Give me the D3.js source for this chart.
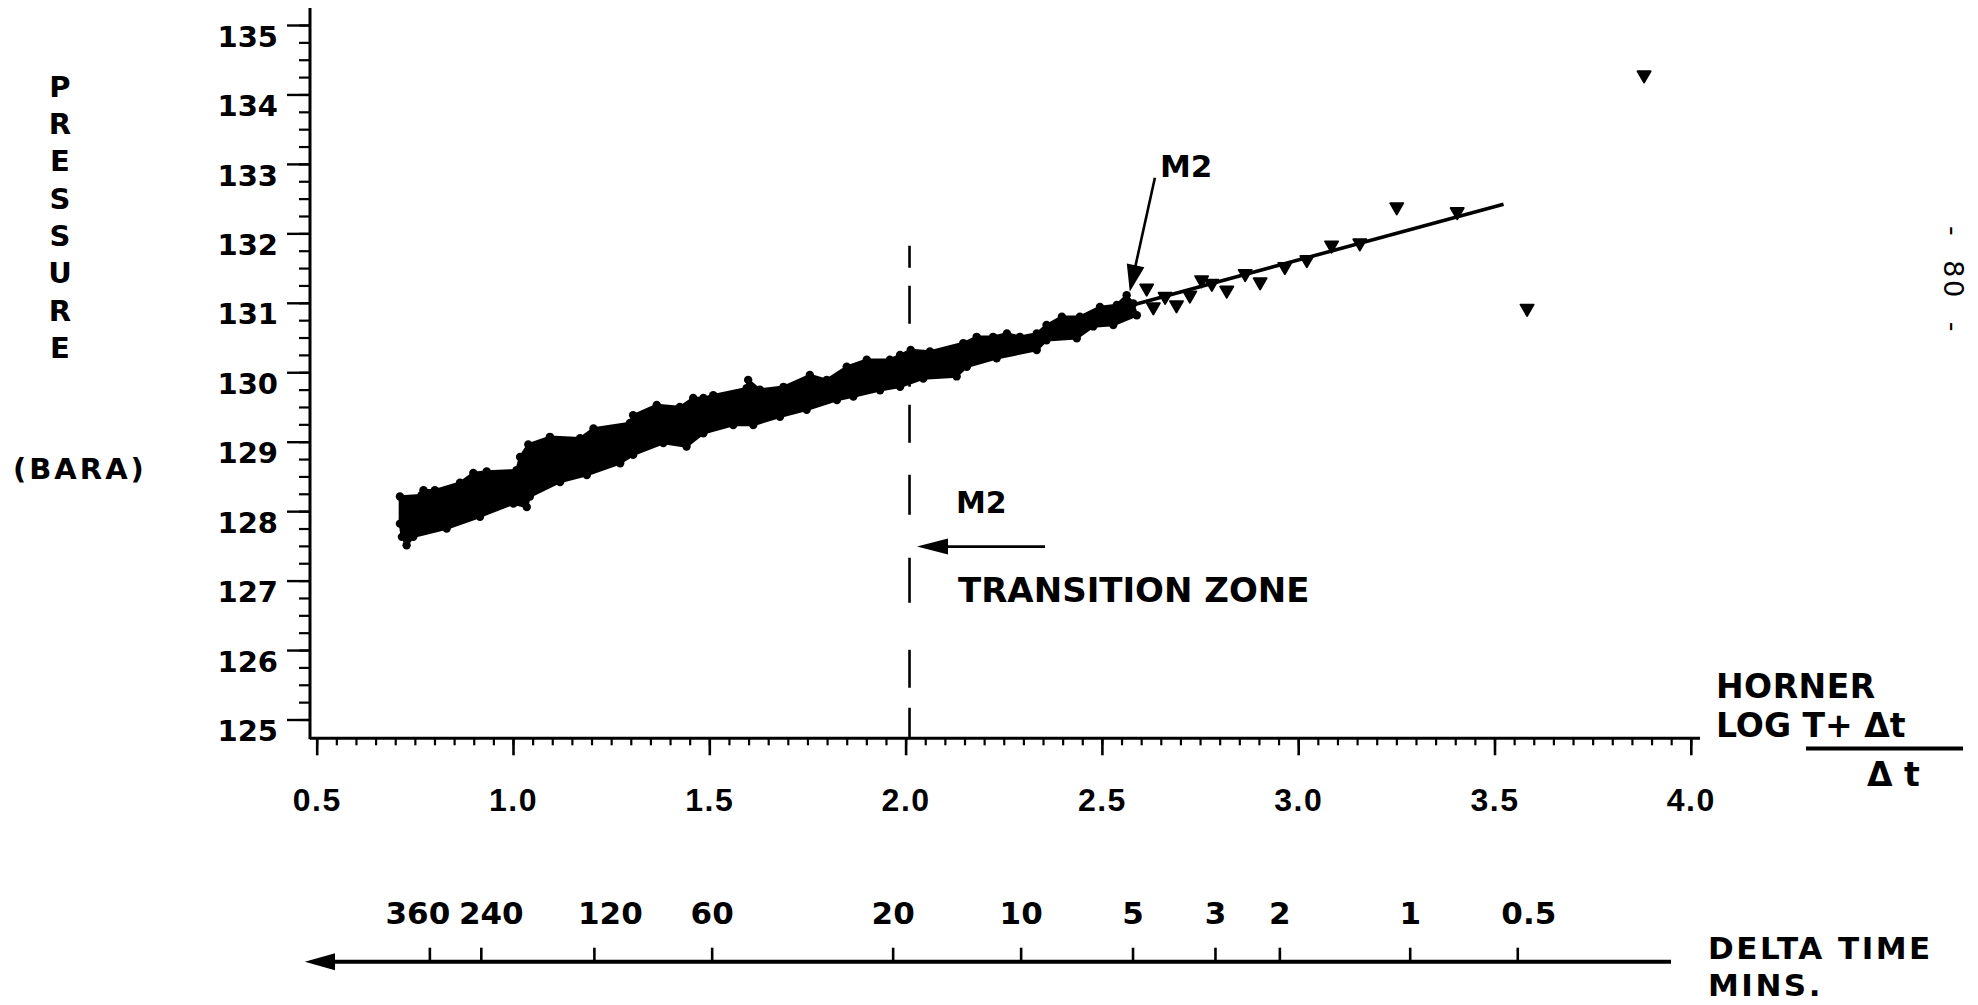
<!DOCTYPE html>
<html><head><meta charset="utf-8">
<script src="https://cdn.jsdelivr.net/npm/d3@7"></script>
<style>
html,body{margin:0;padding:0;background:#fff;}
svg{display:block;}
text{font-family:"DejaVu Sans",sans-serif;font-weight:bold;fill:#000;}
</style></head><body>
<svg id="chart" width="1978" height="1005"></svg>
<script>
// ---------- data ----------
const hornerTicks = [0.5, 1.0, 1.5, 2.0, 2.5, 3.0, 3.5, 4.0];
const hornerTickLabels = ["0.5", "1.0", "1.5", "2.0", "2.5", "3.0", "3.5", "4.0"];
const pressureTicks = [125, 126, 127, 128, 129, 130, 131, 132, 133, 134, 135];
const deltaTimeLabels = ["360", "240", "120", "60", "20", "10", "5", "3", "2", "1", "0.5"];
const deltaTimeHorner = [0.787, 0.918, 1.206, 1.506, 1.967, 2.293, 2.578, 2.788, 2.952, 3.284, 3.558];

// dense band of recorded points: upper and lower envelope (Horner value, pressure)
const bandUpperH = [0.712, 0.767, 0.772, 0.801, 0.865, 0.899, 0.933, 1.009, 1.018, 1.039, 1.094, 1.171, 1.205, 1.298, 1.306, 1.366, 1.425, 1.459, 1.485, 1.510, 1.595, 1.599, 1.629, 1.689, 1.756, 1.799, 1.850, 1.901, 1.960, 1.986, 2.013, 2.062, 2.147, 2.181, 2.223, 2.258, 2.291, 2.334, 2.359, 2.398, 2.444, 2.495, 2.538, 2.563, 2.580];
const bandUpperP = [128.21, 128.23, 128.30, 128.30, 128.41, 128.55, 128.57, 128.59, 128.78, 128.96, 129.07, 129.05, 129.19, 129.27, 129.38, 129.53, 129.50, 129.63, 129.63, 129.67, 129.77, 129.89, 129.75, 129.79, 129.96, 129.89, 130.08, 130.18, 130.18, 130.25, 130.32, 130.30, 130.42, 130.51, 130.51, 130.56, 130.51, 130.56, 130.68, 130.80, 130.80, 130.94, 130.97, 131.11, 130.99];
const bandLowerH = [0.712, 0.717, 0.729, 0.746, 0.831, 0.916, 1.001, 1.035, 1.043, 1.120, 1.188, 1.273, 1.306, 1.383, 1.442, 1.485, 1.561, 1.612, 1.680, 1.748, 1.825, 1.867, 1.935, 1.986, 2.045, 2.130, 2.156, 2.232, 2.334, 2.359, 2.436, 2.478, 2.529, 2.589];
const bandLowerP = [127.82, 127.63, 127.51, 127.63, 127.75, 127.92, 128.11, 128.06, 128.21, 128.42, 128.52, 128.69, 128.81, 128.98, 128.93, 129.12, 129.24, 129.24, 129.36, 129.46, 129.60, 129.65, 129.74, 129.79, 129.91, 129.94, 130.08, 130.20, 130.32, 130.46, 130.49, 130.66, 130.68, 130.82];

// sparse late points
const pointsH = [2.614, 2.631, 2.661, 2.690, 2.724, 2.754, 2.780, 2.818, 2.865, 2.903, 2.966, 3.022, 3.085, 3.157, 3.251, 3.405, 3.583, 3.881];
const pointsP = [131.21, 130.94, 131.09, 130.97, 131.11, 131.33, 131.28, 131.18, 131.42, 131.30, 131.52, 131.62, 131.83, 131.86, 132.38, 132.31, 130.92, 134.28];

// straight-line fit
const fitH = [2.45, 3.523];
const fitP = [130.77, 132.42];

// transition marker
const transitionH = 2.01;
const transitionTopP = 131.82;

// ---------- drawing ----------
const svg = d3.select("#chart");
svg.append("rect").attr("width", 1978).attr("height", 1005).attr("fill", "#fff");

const x = d3.scaleLinear().domain([0.5, 4.0]).range([316.7, 1690.8]);
const y = d3.scaleLinear().domain([125, 135]).range([719.5, 25]);
const axisLeftX = 310, axisRightX = 1700, axisBottomY = 738.3, axisTopY = 8;

function styleAxis(g, w) {
  g.select(".domain").remove();
  g.selectAll(".tick line").attr("stroke", "#000").attr("stroke-width", w);
  g.attr("font-family", null).attr("font-size", null);
}

// Y axis
const minorY = d3.range(0, 41).map(i => 125 + i * 0.25);
const gYm = svg.append("g").attr("transform", `translate(${axisLeftX},0)`)
  .call(d3.axisLeft(y).tickValues(minorY).tickSize(11).tickFormat(""));
styleAxis(gYm, 2.2);
const gY = svg.append("g").attr("transform", `translate(${axisLeftX},0)`)
  .call(d3.axisLeft(y).tickValues(pressureTicks).tickSize(23).tickFormat(d3.format("d")));
styleAxis(gY, 2.4);
gY.selectAll(".tick text").attr("x", -32).attr("dy", "0.73em")
  .style("font-size", "29px").attr("fill", "#000");
svg.append("line").attr("x1", axisLeftX).attr("x2", axisLeftX).attr("y1", axisTopY).attr("y2", axisBottomY + 1)
  .attr("stroke", "#000").attr("stroke-width", 3);

// X axis
const minorX = d3.range(0, 71).map(i => 0.5 + i * 0.05);
const gXm = svg.append("g").attr("transform", `translate(0,${axisBottomY})`)
  .call(d3.axisBottom(x).tickValues(minorX).tickSize(7).tickFormat(""));
styleAxis(gXm, 2.2);
const gX = svg.append("g").attr("transform", `translate(0,${axisBottomY})`)
  .call(d3.axisBottom(x).tickValues(hornerTicks).tickSize(17).tickFormat((d, i) => hornerTickLabels[i]));
styleAxis(gX, 2.6);
gX.selectAll(".tick text").attr("y", 72.7).attr("dy", 0)
  .style("font-family", "'Liberation Sans', Arial, sans-serif").style("font-size", "32px")
  .style("letter-spacing", "1.5px").attr("fill", "#000");
svg.append("line").attr("x1", axisLeftX).attr("x2", axisRightX).attr("y1", axisBottomY).attr("y2", axisBottomY)
  .attr("stroke", "#000").attr("stroke-width", 3);

// data band
const upper = bandUpperH.map((h, i) => [x(h), y(bandUpperP[i])]);
const lower = bandLowerH.map((h, i) => [x(h), y(bandLowerP[i])]).reverse();
svg.append("path")
  .attr("d", d3.line().curve(d3.curveLinearClosed)(upper.concat(lower)))
  .attr("fill", "#000").attr("stroke", "#000").attr("stroke-width", 2.5).attr("stroke-linejoin", "round");
// blotted plotter dots along the envelope
svg.append("g").selectAll("circle").data(upper.concat(lower)).join("circle")
  .attr("cx", d => d[0]).attr("cy", d => d[1]).attr("r", 4.2).attr("fill", "#000");

// fitted line
svg.append("path")
  .attr("d", d3.line()(fitH.map((h, i) => [x(h), y(fitP[i])])))
  .attr("fill", "none").attr("stroke", "#000").attr("stroke-width", 3.6).attr("stroke-linecap", "butt");

// sparse points
const sym = d3.symbol().type(d3.symbolTriangle).size(75);
svg.append("g").selectAll("path").data(pointsH).join("path")
  .attr("d", sym)
  .attr("transform", (h, i) => `translate(${x(h)},${y(pointsP[i])}) rotate(180)`)
  .attr("fill", "#000").attr("stroke", "#000").attr("stroke-width", 1.8).attr("stroke-linejoin", "round");

// transition (dashed) line
svg.append("line")
  .attr("x1", x(transitionH)).attr("x2", x(transitionH))
  .attr("y1", y(transitionTopP)).attr("y2", axisBottomY)
  .attr("stroke", "#000").attr("stroke-width", 2.6)
  .attr("stroke-dasharray", "22,18,38,24,39,18,38,32,40,43,45,47,38,20,40");

// arrow helper
function arrow(fx, fy, tx, ty, len, half, w) {
  const dx = tx - fx, dy = ty - fy, L = Math.hypot(dx, dy);
  const ux = dx / L, uy = dy / L;
  const bx = tx - ux * len, by = ty - uy * len;
  svg.append("line").attr("x1", fx).attr("y1", fy).attr("x2", bx + ux * 2).attr("y2", by + uy * 2)
    .attr("stroke", "#000").attr("stroke-width", w);
  svg.append("path")
    .attr("d", `M${tx},${ty}L${bx - uy * half},${by + ux * half}L${bx + uy * half},${by - ux * half}Z`)
    .attr("fill", "#000");
}

// top M2 annotation
svg.append("text").attr("x", 1160).attr("y", 177).style("font-size", "31px").text("M2");
arrow(x(2.635), y(132.80), x(2.571), y(131.16), 27, 9, 2.6);

// lower M2 / transition zone annotation
svg.append("text").attr("x", 956).attr("y", 513).style("font-size", "30px").text("M2");
arrow(x(2.355), y(127.49), x(2.029), y(127.49), 31, 8, 2.8);
svg.append("text").attr("x", 958).attr("y", 602).style("font-size", "34px").text("TRANSITION ZONE");

// y title
const title = "PRESSURE".split("");
svg.append("g").selectAll("text").data(title).join("text")
  .attr("x", 60).attr("y", (d, i) => 96.7 + i * 37.3)
  .attr("text-anchor", "middle").style("font-size", "29px").text(d => d);
svg.append("text").attr("x", 13).attr("y", 479).style("font-size", "29px")
  .style("letter-spacing", "3px").text("(BARA)");

// x title (Horner)
svg.append("text").attr("x", 1716).attr("y", 698).style("font-size", "33px")
  .style("letter-spacing", "0.5px").text("HORNER");
svg.append("text").attr("x", 1716).attr("y", 737).style("font-size", "33px")
  .attr("xml:space", "preserve").text("LOG T+ Δt");
svg.append("line").attr("x1", 1806).attr("x2", 1963).attr("y1", 748.5).attr("y2", 748.5)
  .attr("stroke", "#000").attr("stroke-width", 4);
svg.append("text").attr("x", 1867).attr("y", 786).style("font-size", "33px")
  .attr("xml:space", "preserve").text("Δ t");

// delta time axis
const deltaY = 961.7;
const nudge = {"360": -12, "240": 10, "120": 16, "0.5": 11};
const gD = svg.append("g").attr("transform", `translate(0,${deltaY})`)
  .call(d3.axisTop(x).tickValues(deltaTimeHorner).tickSize(14).tickFormat((d, i) => deltaTimeLabels[i]));
styleAxis(gD, 2.6);
gD.selectAll(".tick text").attr("y", -37.7).attr("dy", 0)
  .attr("dx", (d, i) => nudge[deltaTimeLabels[i]] || 0)
  .style("font-size", "31px").attr("fill", "#000");
svg.append("line").attr("x1", 325).attr("x2", 1671).attr("y1", deltaY).attr("y2", deltaY)
  .attr("stroke", "#000").attr("stroke-width", 4);
svg.append("path")
  .attr("d", `M304.8,${deltaY}L335,${deltaY - 8.5}L335,${deltaY + 8.5}Z`).attr("fill", "#000");
svg.append("text").attr("x", 1708).attr("y", 959).style("font-size", "31px")
  .style("letter-spacing", "2.5px").text("DELTA TIME");
svg.append("text").attr("x", 1708).attr("y", 996).style("font-size", "31px")
  .style("letter-spacing", "2.5px").text("MINS.");

// page number (rotated)
svg.append("text").attr("transform", "translate(1944,280) rotate(90)")
  .attr("text-anchor", "middle").attr("xml:space", "preserve")
  .style("font-weight", "normal").style("font-size", "27px").style("letter-spacing", "2.5px")
  .text("-  80  -");
</script>
</body></html>
